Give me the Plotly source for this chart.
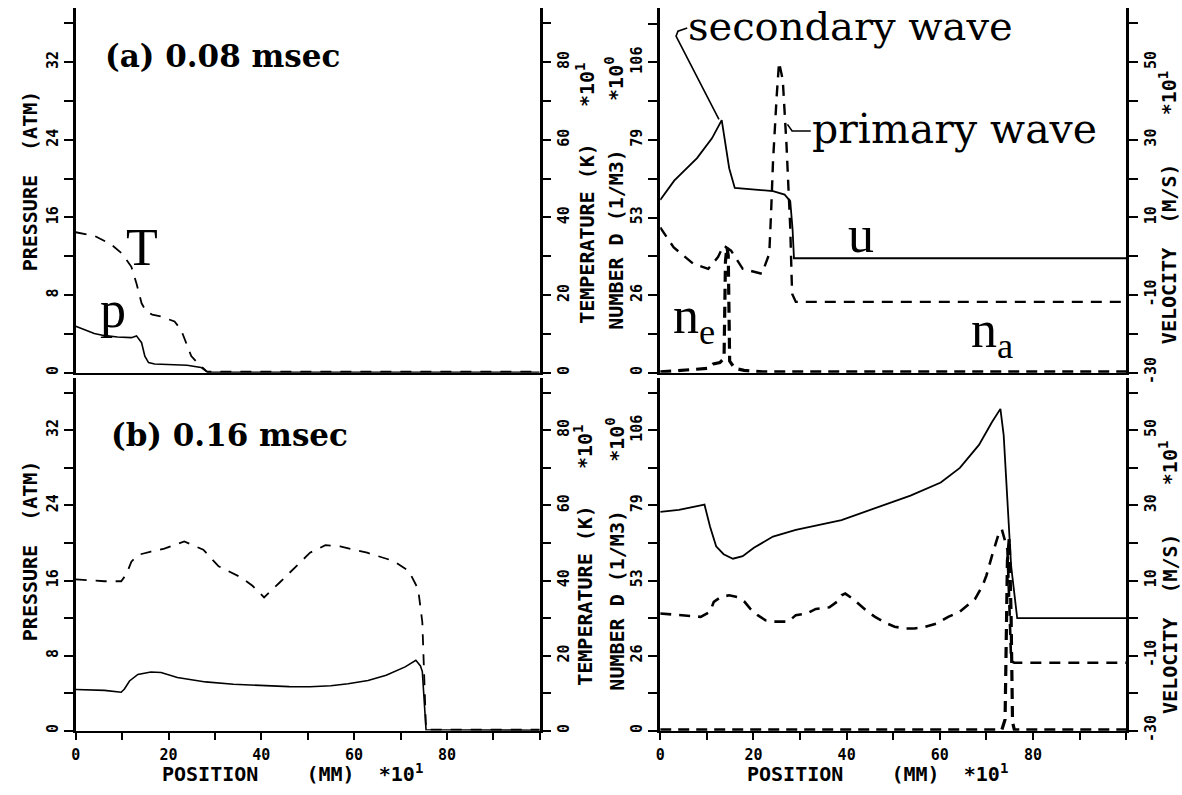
import plotly.graph_objects as go

W, H = 1182, 795

# ---------------- data ----------------
# (a) 0.08 msec, left panel: pressure (ATM) solid, temperature dashed
a_p_x = [0, 2, 4, 6, 9, 12, 13.1, 14.2, 14.9, 15.7, 17, 24, 27, 28, 28.5, 100]
a_p_y = [4.8, 4.4, 4.05, 3.85, 3.68, 3.62, 3.8, 3.1, 1.7, 1.05, 0.9, 0.78, 0.55, 0.2, 0.05, 0.05]
a_T_x = [0, 4, 7.5, 10, 12, 13.1, 14.2, 15.2, 16.5, 18.4, 21.3, 22.7, 23.8, 24.9, 26.3, 27.5, 28.3, 100]
a_T_y = [36.2, 35.3, 33.2, 30.7, 27.3, 23, 17.9, 15.8, 15, 14.5, 13.2, 11.1, 7.7, 4.3, 2.5, 1.2, 0.3, 0.3]

# (a) right panel: number densities (dashed) and velocity u (solid)
a_na_x = [0, 2.9, 7.1, 10.3, 12.4, 13.6, 15.2, 17.7, 21.8, 23.4, 23.8, 24.2, 25.0, 25.5, 26.3, 27.1, 27.9, 28.3, 29.1, 100]
a_na_y = [49.6, 42.8, 37.2, 35.5, 39.5, 43.5, 41.7, 35.5, 33.8, 40.6, 55, 72, 94.7, 106, 100, 77.8, 49.6, 27, 24.2, 24.2]
a_ne_x = [0, 10.3, 11.4, 12.8, 13.7, 14.0, 14.3, 14.6, 14.9, 16, 18, 22, 100]
a_ne_y = [0.3, 1.5, 3, 3.5, 5, 38, 43, 40, 4, 1.5, 0.8, 0.3, 0.3]
a_u_x = [0, 3, 7.9, 11.1, 13.2, 14.8, 16.0, 20, 24.2, 26.7, 27.9, 28.4, 28.7, 100]
a_u_y = [14.5, 19.5, 25.3, 30.4, 35.1, 22.7, 17.6, 17.2, 16.8, 15.9, 14.2, 7, -0.5, -0.5]

# (b) 0.16 msec, left panel
b_p_x = [0, 6.2, 9.8, 10.5, 11.6, 13.4, 16.2, 18.4, 21.9, 28, 34, 40, 46, 50.5, 55, 58.7, 63, 66.9, 71, 73.3, 74.3, 74.7, 75.1, 75.5, 100]
b_p_y = [4.4, 4.3, 4.1, 4.45, 5.3, 6.0, 6.26, 6.2, 5.67, 5.2, 4.95, 4.8, 4.7, 4.68, 4.8, 5.0, 5.35, 5.9, 6.8, 7.5, 6.9, 6.3, 3, 0.1, 0.05]
b_T_x = [0, 6.2, 9.8, 10.9, 12, 13.4, 16.2, 19.1, 23.4, 27.5, 30.8, 35.7, 38.1, 40.6, 43.9, 47.2, 50.5, 53.8, 57, 62.8, 68.5, 71.8, 73.8, 74.7, 75.1, 75.5, 100]
b_T_y = [40.3, 39.8, 39.8, 41.6, 45, 46.8, 47.7, 48.5, 50.4, 48.2, 43.8, 40.8, 38.6, 35.5, 39.4, 43.4, 47.4, 49.4, 49.1, 47.4, 45.2, 42.5, 37.7, 28.9, 15.7, 0.3, 0.3]

# (b) right panel
b_na_x = [0, 4.6, 8.7, 10.7, 11.5, 13.0, 14.8, 16.5, 18.1, 19.3, 20.9, 22.6, 24.2, 27.5, 29.1, 31.5, 33.4, 36.3, 37.9, 38.9, 39.7, 41.3, 42.9, 44.5, 46.1, 48.6, 50.3, 52.8, 54.5, 56.9, 59.4, 61.8, 64.3, 65.9, 67.6, 69.2, 70.0, 71.2, 72.5, 73.3, 74.5, 74.9, 75.3, 76, 100]
b_na_y = [41.4, 40.8, 40.2, 42.0, 45.5, 47.2, 47.8, 47.2, 45.5, 43.1, 40.8, 39.0, 38.5, 38.5, 40.8, 41.4, 43.0, 43.6, 45.5, 47.8, 48.4, 46.6, 44.3, 42.0, 40.2, 37.9, 36.7, 36.1, 36.1, 36.7, 37.9, 40.2, 42.0, 44.3, 46.6, 51.3, 54.8, 61.8, 68.8, 71.1, 64, 45.5, 24.5, 24, 24]
b_ne_x = [0, 73.3, 74.0, 74.5, 74.9, 75.3, 75.6, 76, 100]
b_ne_y = [0.3, 0.3, 4, 60, 68, 40, 3, 0.3, 0.3]
b_u_x = [0, 4, 8.7, 9.5, 10.7, 12.0, 13.6, 15.6, 17.7, 20.1, 24.2, 29.1, 38.9, 47.1, 53.7, 60.2, 64.3, 68.4, 71.2, 73.0, 73.7, 74.5, 75.3, 76.6, 100]
b_u_y = [28.3, 28.8, 30.0, 30.2, 24.3, 19.1, 17.0, 15.8, 16.5, 18.7, 21.7, 23.5, 26.1, 29.6, 32.6, 36.1, 40.0, 46.1, 52.2, 55.7, 48.7, 31.3, 13.9, 0, 0]

# axis ticks (labelled) and minor ticks (unlabelled)
pos_ticks = [0, 20, 40, 60, 80]
pos_labels = ["0", "20", "40", "60", "80"]
pos_minor = [10, 30, 50, 70, 90, 100]
p_ticks = [0, 8, 16, 24, 32]
p_labels = ["0", "8", "16", "24", "32"]
p_minor = [4, 12, 20, 28, 36]
T_ticks = [0, 20, 40, 60, 80]
T_labels = ["0", "20", "40", "60", "80"]
T_minor = [10, 30, 50, 70, 90]
N_ticks = [0, 26.5, 53, 79.5, 106]
N_labels = ["0", "26", "53", "79", "106"]
N_minor = [13.25, 39.75, 66.25, 92.75, 119.25]
V_ticks = [-30, -10, 10, 30, 50]
V_labels = ["-30", "-10", "10", "30", "50"]
V_minor = [-20, 0, 20, 40, 60]

P_RANGE = [0, 37.6]
T_RANGE = [0, 94]
N_RANGE = [0, 124.6]
V_RANGE = [-30, 64]
X_RANGE = [0, 100]

# ---------------- figure ----------------
fig = go.Figure()

def line(x, y, xa, ya, width=1.6, dash="solid"):
    fig.add_trace(go.Scatter(x=x, y=y, xaxis=xa, yaxis=ya, mode="lines",
                             line=dict(color="black", width=width, dash=dash),
                             showlegend=False, hoverinfo="skip"))

line(a_p_x, a_p_y, "x", "y", 1.6)
line(a_T_x, a_T_y, "x", "y2", 1.8, "11px,9px")
line(a_u_x, a_u_y, "x2", "y4", 1.8)
line(a_na_x, a_na_y, "x2", "y3", 2.4, "11px,8px")
line(a_ne_x, a_ne_y, "x2", "y3", 3.2, "11px,7px")
line(b_p_x, b_p_y, "x3", "y5", 1.6)
line(b_T_x, b_T_y, "x3", "y6", 1.8, "11px,9px")
line(b_u_x, b_u_y, "x4", "y8", 1.8)
line(b_na_x, b_na_y, "x4", "y7", 2.6, "11px,8px")
line(b_ne_x, b_ne_y, "x4", "y7", 3.2, "11px,7px")

LX = [71 / W, 537 / W]
RX = [658 / W, 1126 / W]
TY = [1 - 378 / H, 1 - 8 / H]
BY = [1 - 741 / H, 1 - 383 / H]

TICKFONT = dict(family="DejaVu Sans Mono", size=15, color="black", weight="bold")

def yax(domain, anchor, rng, tv, tt, mv, side="left", overlay=None):
    d = dict(anchor=anchor, range=rng, tickmode="array", tickvals=tv, ticktext=tt,
             tickangle=-90, side=side, showline=True, linecolor="black", linewidth=2.5,
             ticks="outside", ticklen=9, tickwidth=2, tickcolor="black",
             minor=dict(tickmode="array", tickvals=mv, ticks="outside", ticklen=9,
                        tickwidth=2, tickcolor="black", showgrid=False),
             showgrid=False, zeroline=False, tickfont=TICKFONT,
             ticklabelstandoff=0)
    if overlay:
        d["overlaying"] = overlay
    else:
        d["domain"] = domain
    return d

def xax(domain, anchor, labels):
    d = dict(domain=domain, anchor=anchor, range=X_RANGE, showline=True,
             linecolor="black", linewidth=2.2, showgrid=False, zeroline=False)
    if labels:
        d.update(tickmode="array", tickvals=pos_ticks, ticktext=pos_labels,
                 ticks="outside", ticklen=7, tickwidth=2, tickcolor="black", tickangle=0,
                 minor=dict(tickmode="array", tickvals=pos_minor, ticks="outside",
                            ticklen=7, tickwidth=2, tickcolor="black", showgrid=False),
                 tickfont=TICKFONT, ticklabelstandoff=2)
    else:
        d.update(showticklabels=False, ticks="")
    return d

fig.update_layout(
    width=W, height=H, margin=dict(l=0, r=0, t=0, b=0),
    paper_bgcolor="white", plot_bgcolor="white", showlegend=False,
    xaxis=xax(LX, "y", False),
    xaxis2=xax(RX, "y3", False),
    xaxis3=xax(LX, "y5", True),
    xaxis4=xax(RX, "y7", True),
    yaxis=yax(TY, "x", P_RANGE, p_ticks, p_labels, p_minor),
    yaxis2=yax(None, "x", T_RANGE, T_ticks, T_labels, T_minor, "right", "y"),
    yaxis3=yax(TY, "x2", N_RANGE, N_ticks, N_labels, N_minor),
    yaxis4=yax(None, "x2", V_RANGE, V_ticks, V_labels, V_minor, "right", "y3"),
    yaxis5=yax(BY, "x3", P_RANGE, p_ticks, p_labels, p_minor),
    yaxis6=yax(None, "x3", T_RANGE, T_ticks, T_labels, T_minor, "right", "y5"),
    yaxis7=yax(BY, "x4", N_RANGE, N_ticks, N_labels, N_minor),
    yaxis8=yax(None, "x4", V_RANGE, V_ticks, V_labels, V_minor, "right", "y7"),
)

NB = "\u00a0"

def ann(text, xp, yp, size, family, xanchor="center", yanchor="middle", angle=0, weight="normal"):
    return dict(text=text, x=xp / W, y=1 - yp / H, xref="paper", yref="paper",
                xanchor=xanchor, yanchor=yanchor, showarrow=False, textangle=angle,
                font=dict(size=size, family=family, color="black", weight=weight))

MONO = "DejaVu Sans Mono"
SERIF = "Liberation Serif"
anns = [
    # axis titles
    ann("PRESSURE" + NB * 2 + "(ATM)", 26, 183, 20, MONO, angle=-90, weight="bold"),
    ann("PRESSURE" + NB * 2 + "(ATM)", 25, 558, 20, MONO, angle=-90, weight="bold"),
    ann("TEMPERATURE" + NB + "(K)" + NB * 3 + "*10<sup>1</sup>", 583, 196, 20, MONO, angle=-90, weight="bold"),
    ann("TEMPERATURE" + NB + "(K)" + NB * 3 + "*10<sup>1</sup>", 581, 563, 20, MONO, angle=-90, weight="bold"),
    ann("NUMBER" + NB + "D" + NB + "(1/M3)" + NB * 4 + "*10<sup>0</sup>", 612, 196, 20, MONO, angle=-90, weight="bold"),
    ann("NUMBER" + NB + "D" + NB + "(1/M3)" + NB * 4 + "*10<sup>0</sup>", 613, 562, 20, MONO, angle=-90, weight="bold"),
    ann("VELOCITY" + NB * 2 + "(M/S)" + NB * 4 + "*10<sup>1</sup>", 1168, 211, 20, MONO, angle=-90, weight="bold"),
    ann("VELOCITY" + NB * 2 + "(M/S)" + NB * 4 + "*10<sup>1</sup>", 1168, 586, 20, MONO, angle=-90, weight="bold"),
    ann("POSITION" + NB * 4 + "(MM)" + NB * 2 + "*10<sup>1</sup>", 289, 784, 20, MONO, weight="bold"),
    ann("POSITION" + NB * 4 + "(MM)" + NB * 2 + "*10<sup>1</sup>", 876, 784, 20, MONO, weight="bold"),
    # panel labels
    ann("(a) 0.08 msec", 98, 57, 31, "DejaVu Serif", xanchor="left", weight="bold"),
    ann("(b) 0.16 msec", 104, 441, 31, "DejaVu Serif", xanchor="left", weight="bold"),
    # curve labels
    ann("T", 138, 251, 52, SERIF),
    ann("p", 108, 314, 52, SERIF),
    ann("u", 860, 238, 52, SERIF),
    ann("n<sub>e</sub>", 692, 324, 52, SERIF),
    ann("n<sub>a</sub>", 991, 338, 52, SERIF),
    ann("secondary wave", 684, 26, 40, "DejaVu Serif", xanchor="left"),
    ann("primary wave", 808, 131, 41, "DejaVu Serif", xanchor="left"),
]
fig.update_layout(annotations=anns)

# leader lines for the wave labels (data coordinates of the upper-right panel)
fig.add_shape(type="path", xref="x2", yref="y4",
              path="M 12.6,35.3 L 3.4,56.7 L 3.8,58.0 L 5.8,58.8",
              line=dict(color="black", width=1.6))
fig.add_shape(type="path", xref="x2", yref="y4",
              path="M 32.3,32.3 L 28.3,32.3 L 27.3,34.0",
              line=dict(color="black", width=1.6))

fig.write_html("out.html", config={"displayModeBar": False},
               post_script="document.body.style.margin='0px';document.body.style.overflow='hidden';")
